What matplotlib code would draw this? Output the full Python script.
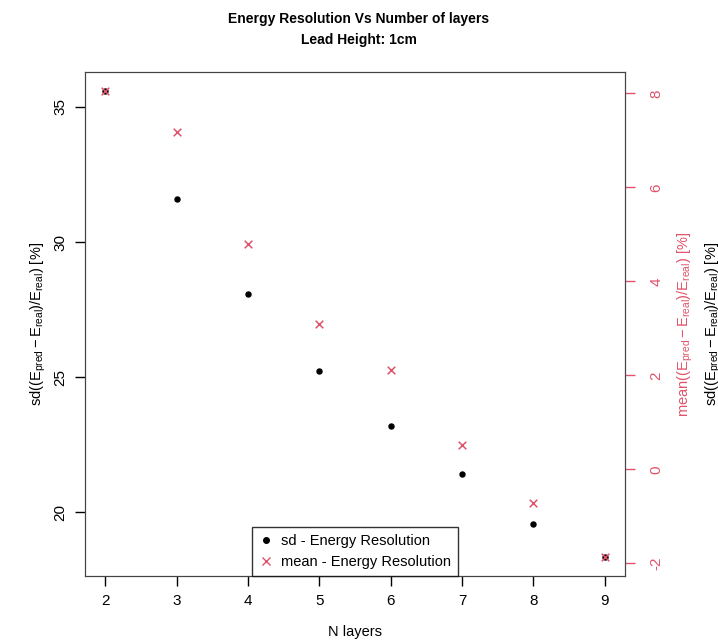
import matplotlib
matplotlib.use("Agg")
import matplotlib.pyplot as plt
from matplotlib.lines import Line2D

plt.rcParams['font.family'] = ['Liberation Sans', 'DejaVu Sans']
plt.rcParams['mathtext.fontset'] = 'custom'
plt.rcParams['mathtext.rm'] = 'Liberation Sans'
plt.rcParams['mathtext.it'] = 'Liberation Sans'
plt.rcParams['axes.unicode_minus'] = False

# values
n_layers = [2, 3, 4, 5, 6, 7, 8, 9]
sd_res = [35.60, 31.58, 28.09, 25.22, 23.19, 21.41, 19.58, 18.34]
mean_res = [8.06, 7.17, 4.80, 3.09, 2.12, 0.52, -0.72, -1.87]

red = '#DF536B'
ylab_math = r'$\mathrm{((E_{pred} - E_{real})/E_{real})}$'

fig = plt.figure(figsize=(7.18, 6.41), dpi=100)
ax = fig.add_axes([0.119, 0.1014, 0.751, 0.7863])
ax.scatter(n_layers, sd_res, s=13, color='black', marker='o', zorder=3)
ax.margins(x=0.04, y=0.04)
ax.set_xticks(n_layers)
ax.set_yticks([20, 25, 30, 35])
ax.tick_params(axis='both', direction='out', length=7, width=1, labelsize=11, pad=6)
for lab in ax.get_yticklabels():
    lab.set_rotation(90)
    lab.set_va('center')
ax.set_xlabel('N layers', fontsize=10.5, labelpad=12)
ax.set_ylabel('sd' + ylab_math + ' [%]', fontsize=10.5, labelpad=4)
for sp in ax.spines.values():
    sp.set_color('#444444')

ax2 = ax.twinx()
ax2.scatter(n_layers, mean_res, s=30, color=red, marker='x', linewidths=1.1, zorder=3)
ax2.margins(x=0.04, y=0.04)
ax2.set_yticks([-2, 0, 2, 4, 6, 8])
ax2.tick_params(axis='y', direction='out', length=7, width=1, colors=red, labelsize=11, pad=11)
for lab in ax2.get_yticklabels():
    lab.set_rotation(90)
    lab.set_va('center')
ax2.set_ylabel('mean' + ylab_math + ' [%]', color=red, fontsize=10.5, labelpad=9)
for sp in ax2.spines.values():
    sp.set_color('#444444')

# second label cut off at the right edge, as in the original
fig.text(0.993, 0.495, 'sd' + ylab_math + ' [%]', rotation=90, ha='center', va='center',
         fontsize=10.5, color='black')

fig.text(0.5, 0.970, 'Energy Resolution Vs Number of layers', ha='center', va='center',
         fontsize=10, fontweight='bold')
fig.text(0.5, 0.937, 'Lead Height: 1cm', ha='center', va='center',
         fontsize=10, fontweight='bold')

handles = [
    Line2D([], [], marker='o', color='black', linestyle='none', markersize=4),
    Line2D([], [], marker='x', color=red, linestyle='none', markersize=6),
]
leg = ax2.legend(handles, ['sd - Energy Resolution', 'mean - Energy Resolution'],
                 loc='lower center', bbox_to_anchor=(0.5, 0.0), fontsize=10.5,
                 frameon=True, fancybox=False, borderaxespad=0, handlelength=1,
                 handletextpad=0.5, borderpad=0.5, labelspacing=0.45)
leg.get_frame().set_edgecolor('black')
leg.get_frame().set_linewidth(1)

fig.savefig('out.png', dpi=100)
